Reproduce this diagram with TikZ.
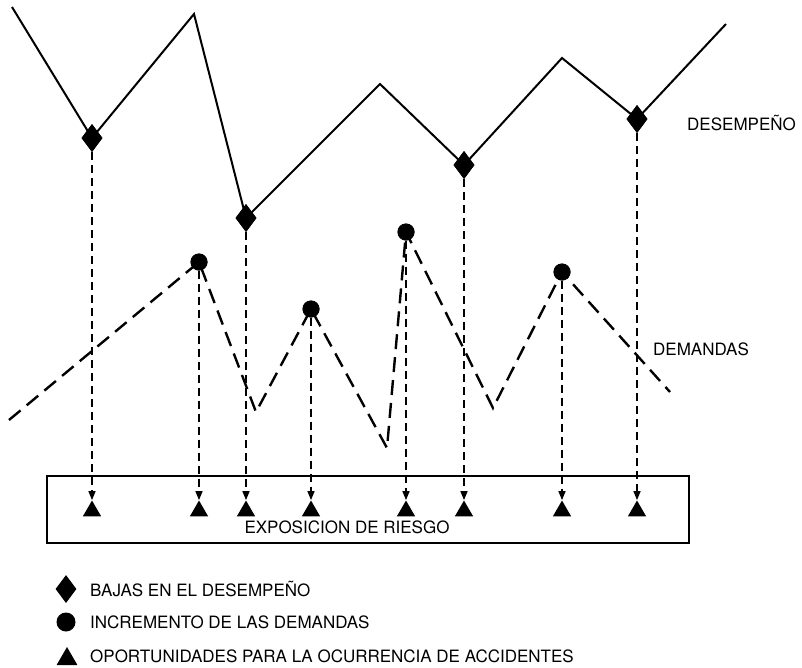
\documentclass[tikz,border=0pt]{standalone}
\usepackage{fontspec}
\setmainfont{TeX Gyre Heros}
\usetikzlibrary{shapes.geometric,arrows.meta}
\begin{document}
\begin{tikzpicture}[x=1pt,y=-1pt,
  every node/.style={font=\fontsize{17}{20}\selectfont},
  perf/.style={line width=2pt,line join=miter},
  dem/.style={line width=2.4pt,dash pattern=on 15pt off 8pt},
  drop/.style={line width=1.5pt,dash pattern=on 8pt off 5pt,-{Triangle[width=7pt,length=9pt]}},
  dmark/.style={diamond,fill=black,inner sep=0pt,minimum width=21pt,minimum height=28pt},
  cmark/.style={circle,fill=black,inner sep=0pt,minimum size=17pt},
  tmark/.style={regular polygon,regular polygon sides=3,fill=black,inner sep=0pt,minimum size=21pt},
  lbl/.style={anchor=west,inner sep=0pt}]
\useasboundingbox (0,0) rectangle (802,667);
% exposure box
\node[draw,line width=1.5pt,minimum width=642pt,minimum height=67pt,inner sep=0pt] (box) at (368,509.5) {};
\node (exp) at (347,527) {EXPOSICION DE RIESGO};
% performance markers
\node[dmark] (d1) at (92,138) {};
\node[dmark] (d2) at (246,218) {};
\node[dmark] (d3) at (464,165) {};
\node[dmark] (d4) at (637,119) {};
% demand markers
\node[cmark] (c1) at (199,262) {};
\node[cmark] (c2) at (311,309) {};
\node[cmark] (c3) at (406,232) {};
\node[cmark] (c4) at (562,272) {};
% triangles
\node[tmark] (t1) at (92,511) {};
\node[tmark] (t2) at (199,511) {};
\node[tmark] (t3) at (246,511) {};
\node[tmark] (t4) at (311,511) {};
\node[tmark] (t5) at (406,511) {};
\node[tmark] (t6) at (464,511) {};
\node[tmark] (t7) at (562,511) {};
\node[tmark] (t8) at (637,511) {};
% performance line
\coordinate (p0) at (12,7);
\coordinate (p1) at (194,14);
\coordinate (p2) at (380,84);
\coordinate (p3) at (562,58);
\coordinate (p4) at (726,24);
\draw[perf] (p0) -- (d1.center) -- (p1) -- (d2.center) -- (p2) -- (d3.center) -- (p3) -- (d4.center) -- (p4);
% demand line
\coordinate (q0) at (9,420);
\coordinate (q1) at (256,412);
\coordinate (q2) at (387,448);
\coordinate (q3) at (493,408);
\coordinate (q4) at (670,392);
\draw[dem] (q0) -- (c1.center) -- (q1) -- (c2.center) -- (q2) -- (c3.center) -- (q3) -- (c4.center) -- (q4);
% redraw markers on top
\node[dmark] at (d1) {};
\node[dmark] at (d2) {};
\node[dmark] at (d3) {};
\node[dmark] at (d4) {};
\node[cmark] at (c1) {};
\node[cmark] at (c2) {};
\node[cmark] at (c3) {};
\node[cmark] at (c4) {};
% drops
\draw[drop] (d1.south) -- (t1.north);
\draw[drop] (c1.south) -- (t2.north);
\draw[drop] (d2.south) -- (t3.north);
\draw[drop] (c2.south) -- (t4.north);
\draw[drop] (c3.south) -- (t5.north);
\draw[drop] (d3.south) -- (t6.north);
\draw[drop] (c4.south) -- (t7.north);
\draw[drop] (d4.south) -- (t8.north);
% line labels
\node[lbl] (ldes) at (687,123) {DESEMPEÑO};
\node[lbl] (ldem) at (653,349) {DEMANDAS};
% legend
\node[dmark] (kd) at (66,589) {};
\node[cmark,minimum size=19pt] (kc) at (66,622) {};
\node[tmark,minimum size=24pt] (kt) at (67,659) {};
\node[lbl] (kdl) at (90,589) {BAJAS EN EL DESEMPEÑO};
\node[lbl] (kcl) at (90,622) {INCREMENTO DE LAS DEMANDAS};
\node[lbl] (ktl) at (90,656) {OPORTUNIDADES PARA LA OCURRENCIA DE ACCIDENTES};
\end{tikzpicture}
\end{document}
